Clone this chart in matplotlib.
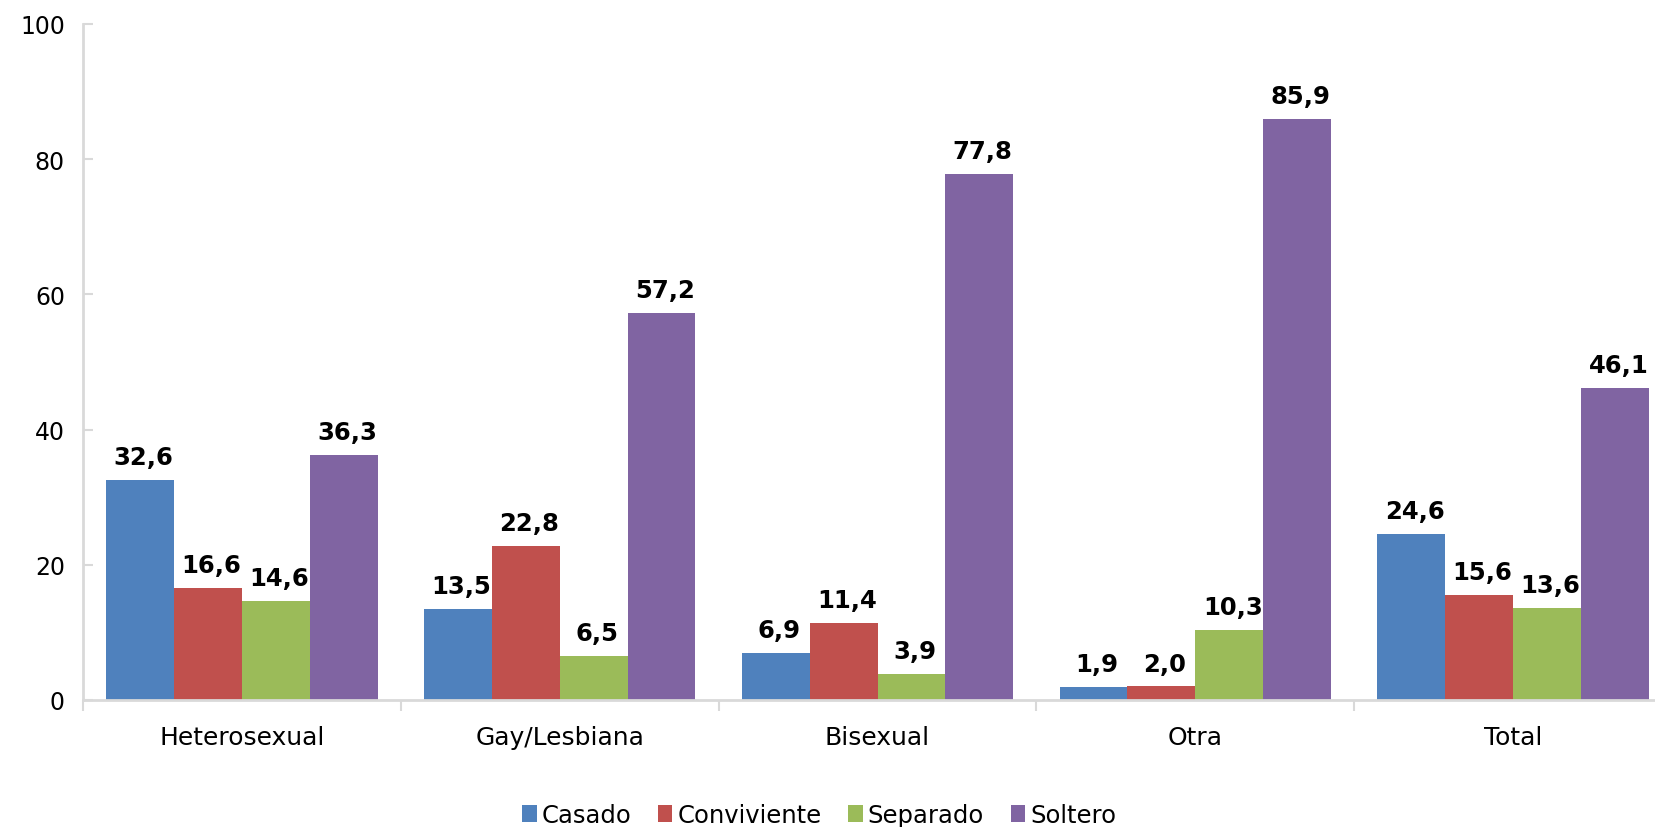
import matplotlib.pyplot as plt
import numpy as np

# data
categories = ["Heterosexual", "Gay/Lesbiana", "Bisexual", "Otra", "Total"]
series = ["Casado", "Conviviente", "Separado", "Soltero"]
casado = [32.6, 13.5, 6.9, 1.9, 24.6]
conviviente = [16.6, 22.8, 11.4, 2.0, 15.6]
separado = [14.6, 6.5, 3.9, 10.3, 13.6]
soltero = [36.3, 57.2, 77.8, 85.9, 46.1]
colors = ["#4F81BD", "#C0504D", "#9BBB59", "#8064A2"]

plt.rcParams['font.family'] = ['DejaVu Sans']

W, H = 1655, 828
fig = plt.figure(figsize=(W / 100, H / 100), dpi=100)
# plot area runs past the right edge, like the clipped original
ax = fig.add_axes([83 / W, 127 / H, (1672 - 83) / W, (701 - 25) / H])

x = np.arange(len(categories))
bw = 0.2135
values = [casado, conviviente, separado, soltero]
for i, (name, vals, c) in enumerate(zip(series, values, colors)):
    pos = x + (i - 1.5) * bw
    ax.bar(pos, vals, width=bw, color=c, label=name, linewidth=0)
    for px, v in zip(pos, vals):
        ax.annotate(f"{v:.1f}".replace(".", ","), (px, v), xytext=(2.5, 11.5),
                    textcoords="offset points", ha="center", va="baseline",
                    fontsize=17.5, fontweight="bold")

ax.set_xlim(-0.5, len(categories) - 0.5)
ax.set_ylim(0, 100)
ax.set_yticks(range(0, 101, 20))
ax.set_xticks(x)
ax.set_xticklabels(categories)
ax.set_xticks(np.arange(-0.5, len(categories), 1), minor=True)

for s in ["top", "right"]:
    ax.spines[s].set_visible(False)
for s in ["left", "bottom"]:
    ax.spines[s].set_color("#D9D9D9")
    ax.spines[s].set_linewidth(2)

ax.tick_params(axis="y", direction="in", length=7, width=1.5, color="#D9D9D9",
               labelsize=17, pad=13)
ax.tick_params(axis="x", which="major", length=0, labelsize=18, pad=18)
ax.tick_params(axis="x", which="minor", direction="out", length=8, width=1.5,
               color="#D9D9D9")

fig.legend(loc="center", bbox_to_anchor=(819 / W, 12 / H), ncol=4, frameon=False,
           fontsize=17.5, handlelength=0.6, handleheight=0.65, handletextpad=0.2,
           columnspacing=1.1, borderpad=0)

fig.savefig("out.png", dpi=100)
